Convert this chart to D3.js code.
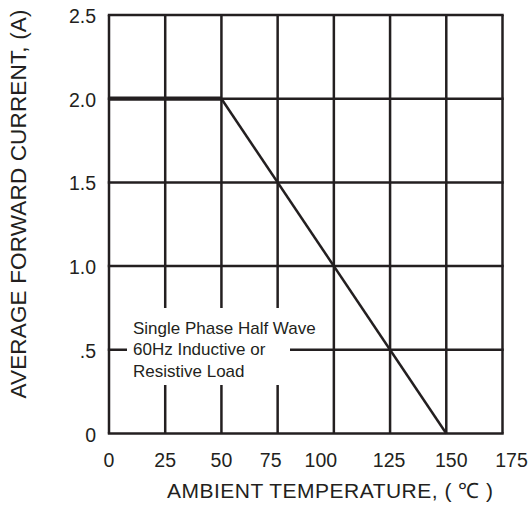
<!DOCTYPE html>
<html><head><meta charset="utf-8">
<script src="https://cdn.jsdelivr.net/npm/d3@7"></script>
<style>body{margin:0;background:#fff}</style>
</head><body>
<svg id="c" width="531" height="506"></svg>
<script>
const xTicks = [0,25,50,75,100,125,150,175];
const yTicks = [0,0.5,1.0,1.5,2.0,2.5];
const yTickLabels = ["0",".5","1.0","1.5","2.0","2.5"];
const curveTemp = [0,50,150];
const curveCurrent = [2.0,2.0,0];
const noteLines = ["Single Phase Half Wave","60Hz Inductive or","Resistive Load"];

const svg = d3.select("#c");
const L=109,R=502.5,T=15,B=433.5;
const x = d3.scaleLinear().domain([0,175]).range([L,R]);
const y = d3.scaleLinear().domain([0,2.5]).range([B,T]);
const ink="#231f20";
const font="Liberation Sans, Arial, sans-serif";
// slight label offsets, as printed in the original datasheet
const xLabelNudge = {75:-7,100:-13,125:-1,150:5,175:9};

// grid
svg.append("g").selectAll("line").data(xTicks).join("line")
  .attr("x1",d=>x(d)).attr("x2",d=>x(d)).attr("y1",T).attr("y2",B)
  .attr("stroke",ink).attr("stroke-width",2.5);
svg.append("g").selectAll("line").data(yTicks).join("line")
  .attr("y1",d=>y(d)).attr("y2",d=>y(d)).attr("x1",L-1.2).attr("x2",R+1.2)
  .attr("stroke",ink).attr("stroke-width",2.5);

// note box (white)
svg.append("rect").attr("x",127).attr("y",308).attr("width",290-127).attr("height",77).attr("fill","#fff");

// curve
const pts = curveTemp.map((t,i)=>[t,curveCurrent[i]]);
svg.append("path").datum(pts.slice(0,2))
  .attr("d",d3.line().x(d=>x(d[0])).y(d=>y(d[1])))
  .attr("stroke",ink).attr("stroke-width",4.3).attr("fill","none");
svg.append("path").datum(pts.slice(1))
  .attr("d",d3.line().x(d=>x(d[0])).y(d=>y(d[1])))
  .attr("stroke",ink).attr("stroke-width",2.5).attr("fill","none");

// note text
svg.append("g").selectAll("text").data(noteLines).join("text")
  .attr("x",133).attr("y",(d,i)=>333.5+i*21.6)
  .attr("font-family",font).attr("font-size",17).attr("fill",ink).text(d=>d);

// tick labels
svg.append("g").selectAll("text").data(yTicks).join("text")
  .attr("x",96).attr("y",d=>y(d)+8).attr("text-anchor","end")
  .attr("font-family",font).attr("font-size",19.5).attr("fill",ink)
  .text((d,i)=>yTickLabels[i]);
svg.append("g").selectAll("text").data(xTicks).join("text")
  .attr("x",d=>x(d)+(xLabelNudge[d]||0)).attr("y",467).attr("text-anchor","middle")
  .attr("font-family",font).attr("font-size",19.5).attr("fill",ink).text(d=>d);

// axis titles
svg.append("text").attr("x",330).attr("y",498).attr("text-anchor","middle")
  .attr("font-family",font).attr("font-size",21).attr("fill",ink)
  .attr("textLength",326).attr("lengthAdjust","spacing")
  .text("AMBIENT TEMPERATURE, ( \u2103 )");
svg.append("text").attr("transform","translate(26,204) rotate(-90)").attr("text-anchor","middle")
  .attr("font-family",font).attr("font-size",22.5).attr("fill",ink)
  .attr("textLength",389).attr("lengthAdjust","spacing")
  .text("AVERAGE FORWARD CURRENT, (A)");
</script>
</body></html>
